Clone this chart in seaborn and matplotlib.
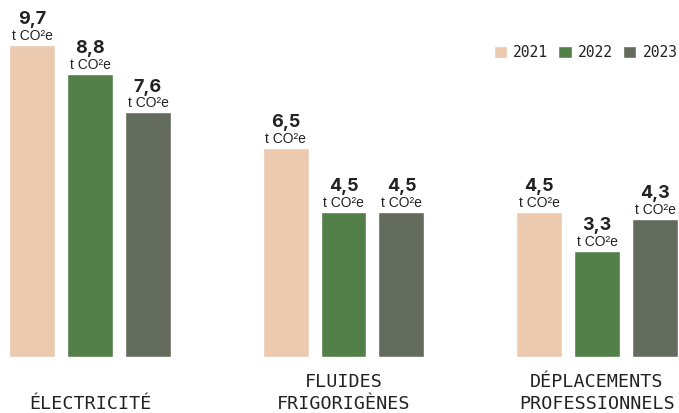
import matplotlib
matplotlib.use('Agg')
import matplotlib.pyplot as plt
import pandas as pd
import seaborn as sns

# Data
categories = ['ÉLECTRICITÉ', 'FLUIDES\nFRIGORIGÈNES', 'DÉPLACEMENTS\nPROFESSIONNELS']
years = ['2021', '2022', '2023']
values_2021 = [9.7, 6.5, 4.5]
values_2022 = [8.8, 4.5, 3.3]
values_2023 = [7.6, 4.5, 4.3]
colors = ['#EBCAB0', '#528048', '#636C5C']

df = pd.DataFrame({
    'category': categories * 3,
    'year': [y for y in years for _ in categories],
    'value': values_2021 + values_2022 + values_2023,
})

sns.set_style('white')
fig = plt.figure(figsize=(6.79, 4.13), dpi=100)
ax = fig.add_axes([0, 0.1356, 1, 0.8644])

sns.barplot(data=df, x='category', y='value', hue='year', order=categories,
            hue_order=years, palette=colors, width=0.686, gap=0.207,
            saturation=1, errorbar=None, ax=ax)

ax.set_xlim(-0.355, 2.3235)
ax.set_ylim(0, 11.09)
ax.set_xlabel('')
ax.set_ylabel('')
ax.set_yticks([])
ax.set_xticks([])
sns.despine(ax=ax, left=True, bottom=True)

# value labels above bars
for cont in ax.containers:
    for bar in cont:
        x = bar.get_x() + bar.get_width() / 2
        h = bar.get_height()
        ax.annotate(f'{h:.1f}'.replace('.', ','), (x, h), xytext=(0, 15),
                    textcoords='offset points', ha='center', va='baseline',
                    fontsize=13, fontweight='bold', family='Inter', color='#222222')
        ax.annotate('t CO²e', (x, h), xytext=(0, 3.6),
                    textcoords='offset points', ha='center', va='baseline',
                    fontsize=10, family='Liberation Sans', color='#222222')

# category labels
for i, cat in enumerate(categories):
    lbl = cat if '\n' in cat else '\n' + cat
    ax.text(i, -0.045, lbl, transform=ax.get_xaxis_transform(), ha='center', va='top',
            fontsize=13.2, family='DejaVu Sans Mono', color='#222222', linespacing=1.25)

leg = ax.legend(loc='center right', bbox_to_anchor=(678 / 679, 0.872),
                bbox_transform=fig.transFigure, ncol=3, frameon=False,
                handlelength=0.9, handleheight=0.9, handletextpad=0.45,
                columnspacing=0.7, borderpad=0, borderaxespad=0,
                prop={'family': 'DejaVu Sans Mono', 'size': 10.5})
for t in leg.get_texts():
    t.set_color('#222222')

fig.savefig('out.png', dpi=100)
